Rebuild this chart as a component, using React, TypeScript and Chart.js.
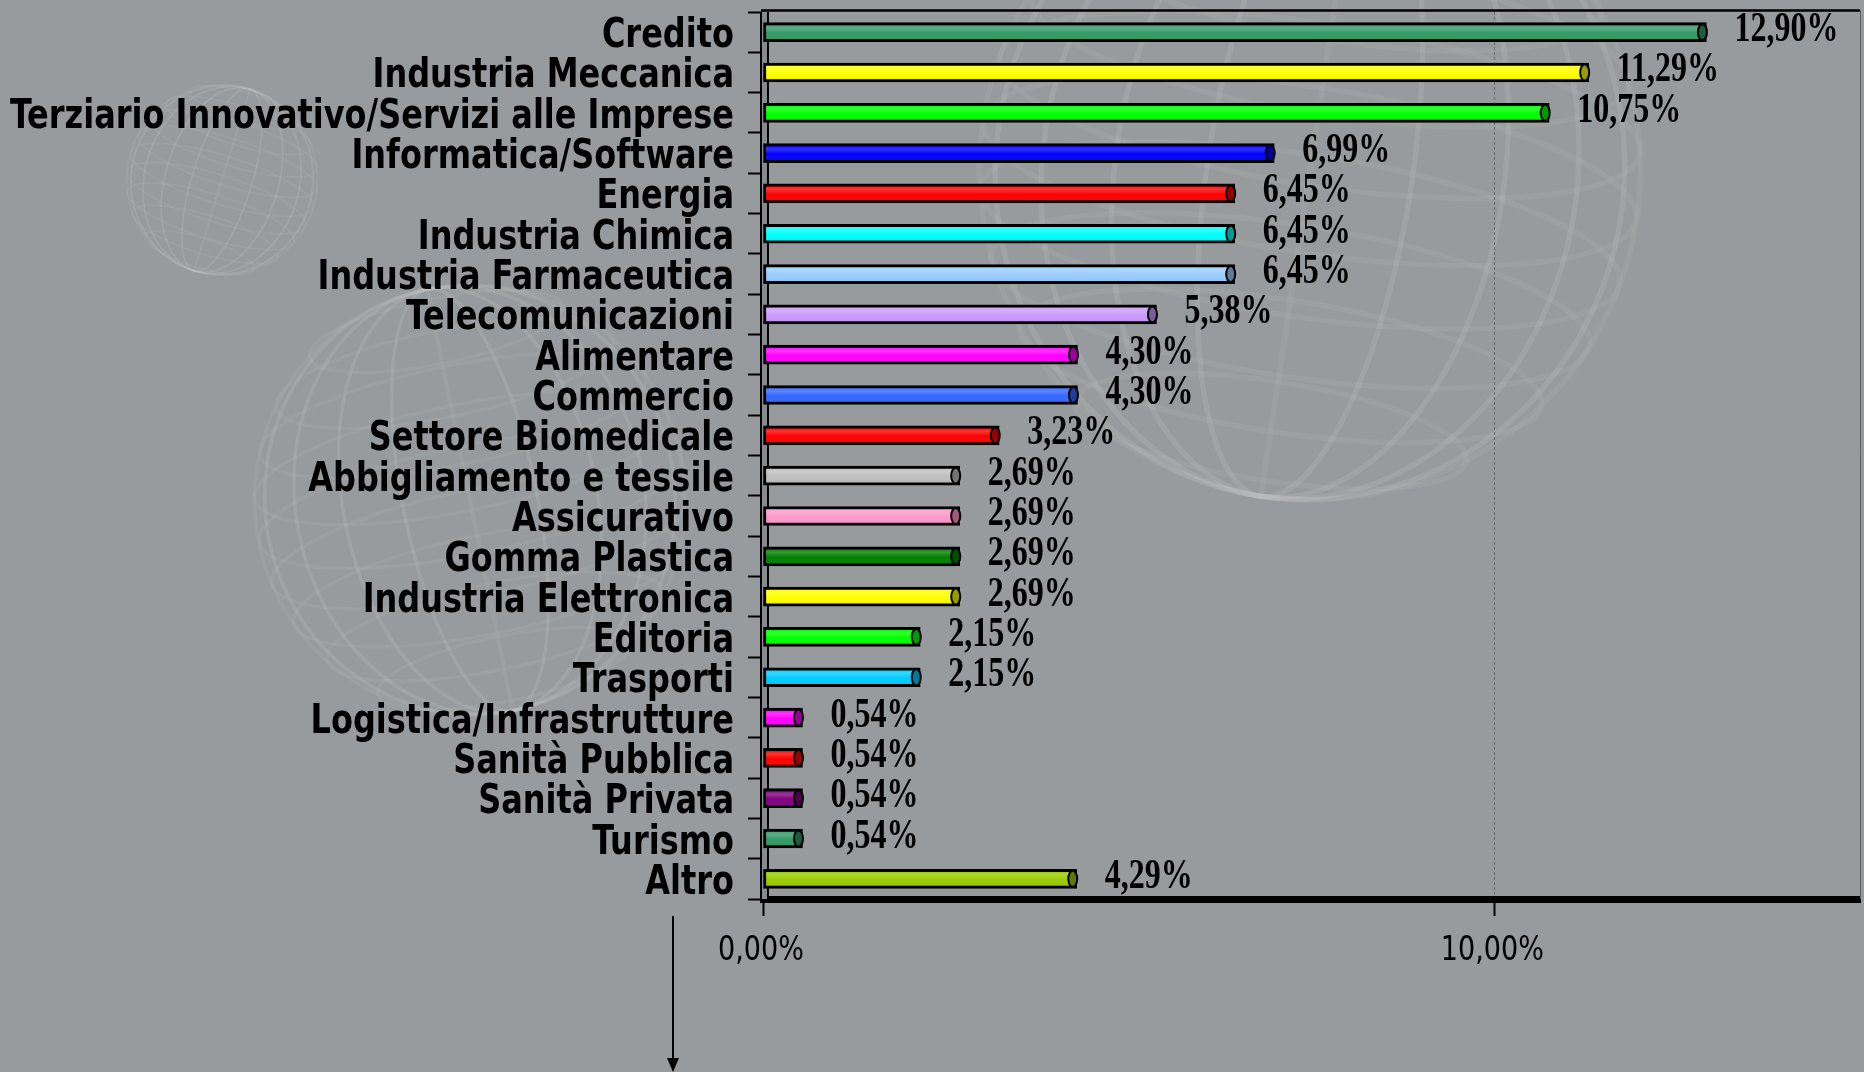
import React, { useEffect, useRef } from "react";
import { Chart, registerables } from "chart.js";

Chart.register(...registerables);

const categories = [
  "Credito",
  "Industria Meccanica",
  "Terziario Innovativo/Servizi alle Imprese",
  "Informatica/Software",
  "Energia",
  "Industria Chimica",
  "Industria Farmaceutica",
  "Telecomunicazioni",
  "Alimentare",
  "Commercio",
  "Settore Biomedicale",
  "Abbigliamento e tessile",
  "Assicurativo",
  "Gomma Plastica",
  "Industria Elettronica",
  "Editoria",
  "Trasporti",
  "Logistica/Infrastrutture",
  "Sanità Pubblica",
  "Sanità Privata",
  "Turismo",
  "Altro",
];

const values = [
  12.9, 11.29, 10.75, 6.99, 6.45, 6.45, 6.45, 5.38, 4.3, 4.3, 3.23, 2.69, 2.69,
  2.69, 2.69, 2.15, 2.15, 0.54, 0.54, 0.54, 0.54, 4.29,
];

const barColors = [
  "#339966",
  "#ffff00",
  "#00ff00",
  "#0000ff",
  "#ff0000",
  "#00ffff",
  "#99ccff",
  "#cc99ff",
  "#ff00ff",
  "#3366ff",
  "#ff0000",
  "#c0c0c0",
  "#ff99cc",
  "#008000",
  "#ffff00",
  "#00ff00",
  "#00ccff",
  "#ff00ff",
  "#ff0000",
  "#800080",
  "#339966",
  "#99cc00",
];

const xTickValues = [0, 10];
const xMin = 0;
const xMax = 15;

const BG = "#979b9d";

function fmt(v: number): string {
  return v.toFixed(2).replace(".", ",") + "%";
}

function darken(hex: string, f: number): string {
  const n = parseInt(hex.slice(1), 16);
  const r = Math.round(((n >> 16) & 255) * f);
  const g = Math.round(((n >> 8) & 255) * f);
  const b = Math.round((n & 255) * f);
  return `rgb(${r},${g},${b})`;
}

function drawScaledText(
  ctx: CanvasRenderingContext2D,
  text: string,
  x: number,
  y: number,
  sx: number,
  align: CanvasTextAlign
) {
  ctx.save();
  ctx.translate(x, y);
  ctx.scale(sx, 1);
  ctx.textAlign = align;
  ctx.textBaseline = "alphabetic";
  ctx.fillText(text, 0, 0);
  ctx.restore();
}

function drawGlobe(
  ctx: CanvasRenderingContext2D,
  cx: number,
  cy: number,
  r: number,
  tilt: number
) {
  ctx.save();
  ctx.translate(cx, cy);
  ctx.rotate(tilt);
  ctx.strokeStyle = "rgba(225,228,230,0.07)";
  ctx.lineWidth = Math.max(2, r / 60);
  for (let k = 0; k < 10; k++) {
    const a = (k / 10) * Math.PI;
    ctx.beginPath();
    ctx.ellipse(0, 0, Math.abs(Math.cos(a)) * r + 0.5, r, 0, 0, Math.PI * 2);
    ctx.stroke();
  }
  for (let k = -4; k <= 4; k++) {
    const yy = (k / 5) * r;
    const rr = Math.sqrt(Math.max(0, r * r - yy * yy));
    ctx.beginPath();
    ctx.ellipse(0, yy, rr, rr * 0.25 + 0.5, 0, 0, Math.PI * 2);
    ctx.stroke();
  }
  ctx.restore();
}

const decorPlugin = {
  id: "decor",
  beforeDraw(chart: any) {
    const ctx: CanvasRenderingContext2D = chart.ctx;
    ctx.save();
    ctx.fillStyle = BG;
    ctx.fillRect(0, 0, chart.width, chart.height);
    drawGlobe(ctx, 222, 180, 95, 0.3);
    drawGlobe(ctx, 470, 500, 215, -0.2);
    drawGlobe(ctx, 1310, 170, 330, 0.15);
    ctx.restore();
  },
  beforeDatasetsDraw(chart: any) {
    const ctx: CanvasRenderingContext2D = chart.ctx;
    const { left, right, top, bottom } = chart.chartArea;
    ctx.save();
    // axis wall
    ctx.fillStyle = "#878b8d";
    ctx.fillRect(left - 2, top, 7, bottom - top);
    ctx.strokeStyle = "#000";
    ctx.lineWidth = 2;
    ctx.beginPath();
    ctx.moveTo(left - 2, top);
    ctx.lineTo(left - 2, bottom);
    ctx.moveTo(left + 5, top);
    ctx.lineTo(left + 5, bottom);
    ctx.stroke();
    // top frame
    ctx.lineWidth = 2.5;
    ctx.beginPath();
    ctx.moveTo(left - 2, top - 1.5);
    ctx.lineTo(right, top - 1.5);
    ctx.stroke();
    // right frame
    ctx.strokeStyle = "#5a5e60";
    ctx.lineWidth = 1;
    ctx.beginPath();
    ctx.moveTo(right + 0.5, top - 1.5);
    ctx.lineTo(right + 0.5, bottom);
    ctx.stroke();
    ctx.restore();
  },
  afterDatasetsDraw(chart: any) {
    const ctx: CanvasRenderingContext2D = chart.ctx;
    const meta = chart.getDatasetMeta(0);
    ctx.save();
    meta.data.forEach((el: any, i: number) => {
      const p = el.getProps(["x", "y", "base", "height"], true);
      const h = p.height;
      const x0 = p.base;
      const x1 = p.x;
      const yTop = p.y - h / 2;
      // shading
      const g = ctx.createLinearGradient(0, yTop, 0, yTop + h);
      g.addColorStop(0, "rgba(255,255,255,0)");
      g.addColorStop(0.3, "rgba(255,255,255,0.2)");
      g.addColorStop(0.55, "rgba(255,255,255,0)");
      g.addColorStop(1, "rgba(0,0,0,0.14)");
      ctx.fillStyle = g;
      ctx.fillRect(x0 + 2, yTop + 3, Math.max(0, x1 - x0 - 5), h - 6);
      // end cap
      ctx.beginPath();
      ctx.ellipse(x1 - 4, p.y, 4.5, h / 2 - 1.5, 0, 0, Math.PI * 2);
      ctx.fillStyle = darken(barColors[i], 0.6);
      ctx.fill();
      ctx.strokeStyle = "#000";
      ctx.lineWidth = 2;
      ctx.stroke();
    });
    ctx.restore();

    // value labels
    ctx.save();
    ctx.fillStyle = "#000";
    ctx.font = 'bold 42px "Liberation Serif", "Times New Roman", serif';
    const refW = ctx.measureText(fmt(values[0])).width;
    const sxV = refW > 0 ? 104 / refW : 1;
    meta.data.forEach((el: any, i: number) => {
      const p = el.getProps(["x", "y"], true);
      drawScaledText(ctx, fmt(values[i]), p.x + 28, p.y + 9, sxV, "left");
    });
    ctx.restore();
  },
  afterDraw(chart: any) {
    const ctx: CanvasRenderingContext2D = chart.ctx;
    const yScale = chart.scales.y;
    const xScale = chart.scales.x;
    // category labels
    ctx.save();
    ctx.fillStyle = "#000";
    ctx.font = 'bold 40px "DejaVu Sans Condensed", "DejaVu Sans", sans-serif';
    let maxW = 0;
    categories.forEach((c) => {
      maxW = Math.max(maxW, ctx.measureText(c).width);
    });
    const sxY = maxW > 0 ? 724 / maxW : 1;
    categories.forEach((c, i) => {
      const y = yScale.getPixelForValue(i);
      drawScaledText(ctx, c, 734, y + 15, sxY, "right");
    });
    ctx.restore();

    // x tick labels
    ctx.save();
    ctx.fillStyle = "#000";
    ctx.font = '34px "DejaVu Sans Condensed", "DejaVu Sans", sans-serif';
    const wRef = ctx.measureText(fmt(10)).width;
    const sxX = wRef > 0 ? 103 / wRef : 1;
    xScale.ticks.forEach((t: any) => {
      const x = xScale.getPixelForValue(t.value);
      drawScaledText(ctx, fmt(t.value), x - 2, 960, sxX, "center");
    });
    ctx.restore();

    // arrow
    ctx.save();
    ctx.strokeStyle = "#000";
    ctx.fillStyle = "#000";
    ctx.lineWidth = 2;
    ctx.beginPath();
    ctx.moveTo(673, 916);
    ctx.lineTo(673, 1060);
    ctx.stroke();
    ctx.beginPath();
    ctx.moveTo(667, 1058);
    ctx.lineTo(679, 1058);
    ctx.lineTo(673, 1072);
    ctx.closePath();
    ctx.fill();
    ctx.restore();
  },
};

export default function App() {
  const canvasRef = useRef<HTMLCanvasElement | null>(null);

  useEffect(() => {
    document.body.style.margin = "0";
    document.body.style.background = BG;
    const canvas = canvasRef.current;
    if (!canvas) return;
    const chart = new Chart(canvas, {
      type: "bar",
      data: {
        labels: categories,
        datasets: [
          {
            data: values,
            backgroundColor: barColors,
            borderColor: "#000",
            borderWidth: 3,
            borderSkipped: false,
            barThickness: 19,
          },
        ],
      },
      options: {
        indexAxis: "y",
        responsive: false,
        animation: false,
        devicePixelRatio: 1,
        layout: { padding: { top: 12, right: 4, left: 0, bottom: 0 } },
        plugins: {
          legend: { display: false },
          tooltip: { enabled: false },
        },
        scales: {
          x: {
            type: "linear",
            min: xMin,
            max: xMax,
            afterBuildTicks: (s: any) => {
              s.ticks = xTickValues.map((v) => ({ value: v }));
            },
            afterFit: (s: any) => {
              s.height = 173;
            },
            ticks: { display: false },
            grid: {
              color: (c: any) =>
                c.tick && c.tick.value === 10 ? "#666a6c" : "rgba(0,0,0,0)",
              lineWidth: 1,
              drawTicks: true,
              tickLength: 17,
              tickColor: "#000",
              tickWidth: 2,
            },
            border: { display: true, color: "#000", width: 7, dash: [3, 2] },
          },
          y: {
            type: "category",
            afterFit: (s: any) => {
              s.width = 763;
            },
            ticks: { display: false },
            grid: {
              offset: true,
              drawOnChartArea: false,
              drawTicks: true,
              tickLength: 15,
              tickColor: "#000",
              tickWidth: 2,
            },
            border: { display: false },
          },
        },
      },
      plugins: [decorPlugin],
    } as any);
    return () => chart.destroy();
  }, []);

  return (
    <div
      style={{
        position: "absolute",
        left: 0,
        top: 0,
        width: 1864,
        height: 1072,
        background: BG,
      }}
    >
      <canvas ref={canvasRef} width={1864} height={1072} />
    </div>
  );
}
